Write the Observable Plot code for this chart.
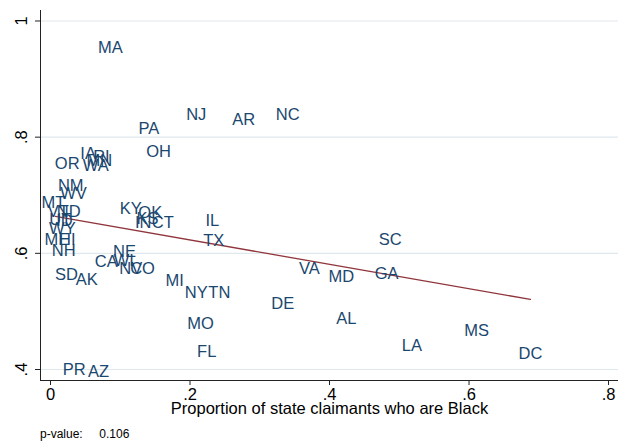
<!DOCTYPE html>
<html>
<head>
<meta charset="utf-8">
<script src="https://cdn.jsdelivr.net/npm/d3@7"></script>
<script src="https://cdn.jsdelivr.net/npm/@observablehq/plot@0.6"></script>
<style>
  html, body { margin: 0; padding: 0; background: #fff; }
  #chart { width: 620px; height: 443px; position: relative; font-family: "Liberation Sans", Arial, sans-serif; }
  #caption { position: absolute; left: 40px; top: 427px; font-size: 12px; color: #000; white-space: pre; }
</style>
</head>
<body>
<div id="chart"></div>
<script>
const states = ["MA","NJ","AR","NC","PA","OH","IA","RI","MN","OR","WA","NM","WV","MT","VT","ND","UT","ID","WY","ME","HI","NH","SD","AK","KY","OK","KS","IN","CT","IL","TX","NE","CA","WI","NV","CO","MI","NY","TN","MO","FL","DE","VA","MD","GA","SC","AL","LA","MS","DC","PR","AZ"];
const shareBlack = [0.086,0.209,0.277,0.340,0.141,0.155,0.054,0.073,0.070,0.024,0.065,0.029,0.033,0.004,0.011,0.026,0.014,0.020,0.017,0.009,0.024,0.019,0.023,0.052,0.115,0.143,0.139,0.133,0.161,0.232,0.234,0.106,0.080,0.105,0.115,0.132,0.178,0.209,0.242,0.215,0.224,0.333,0.371,0.417,0.482,0.487,0.424,0.518,0.611,0.688,0.034,0.069];
const outcome = [0.954,0.839,0.830,0.839,0.815,0.775,0.772,0.767,0.760,0.755,0.751,0.717,0.703,0.688,0.672,0.672,0.658,0.657,0.643,0.624,0.624,0.605,0.564,0.555,0.677,0.670,0.660,0.653,0.653,0.656,0.622,0.602,0.586,0.588,0.574,0.574,0.552,0.533,0.533,0.479,0.431,0.514,0.574,0.560,0.565,0.624,0.488,0.441,0.466,0.428,0.400,0.397];
const fitX = [0.007, 0.688];
const fitY = [0.6635, 0.5207];
const xTicks = [0, 0.2, 0.4, 0.6, 0.8];
const yTicks = [0.4, 0.6, 0.8, 1];
const xTitle = "Proportion of state claimants who are Black";
const pLabel = "p-value:";
const pValue = "0.106";

const data = states.map((s, i) => ({state: s, x: shareBlack[i], y: outcome[i]}));
const fit = fitX.map((x, i) => ({x, y: fitY[i]}));
const fmt = d => d === 0 ? "0" : d === 1 ? "1" : String(d).replace(/^0/, "");
const navy = "#1a476f";
const xDom = [-0.01434, 0.8143];
const yDom = [0.38107, 1.01807];

const chart = Plot.plot({
  width: 620,
  height: 420,
  marginLeft: 40,
  marginRight: 2,
  marginTop: 10,
  marginBottom: 40,
  style: {fontFamily: "'Liberation Sans', Arial, sans-serif", background: "#fff"},
  x: {domain: xDom, axis: null},
  y: {domain: yDom, axis: null},
  marks: [
    Plot.gridY(yTicks, {stroke: "#dfe8ec", strokeOpacity: 1, strokeWidth: 1.2}),
    Plot.ruleX([xDom[0]], {stroke: "#222", strokeWidth: 1}),
    Plot.ruleY([yDom[0]], {stroke: "#222", strokeWidth: 1}),
    Plot.axisY(yTicks, {tickSize: 5, tickFormat: () => "", stroke: "#222", label: null}),
    Plot.text(yTicks, {y: d => d, text: fmt, frameAnchor: "left", dx: -19, rotate: -90, fontSize: 16.5, fill: "#000", textAnchor: "middle", lineAnchor: "middle"}),
    Plot.axisX(xTicks, {tickSize: 5, tickPadding: 3, tickFormat: fmt, fontSize: 16.5, fill: "#000", stroke: "#222", label: null}),
    Plot.text([xTitle], {frameAnchor: "bottom", dy: 33, text: d => d, fontSize: 16.5, fill: "#000"}),
    Plot.line(fit, {x: "x", y: "y", stroke: "#90353b", strokeWidth: 1.3}),
    Plot.text(data, {x: "x", y: "y", text: "state", fill: navy, fontSize: 16.5})
  ]
});
document.getElementById("chart").appendChild(chart);
const cap = document.createElement("div");
cap.id = "caption";
cap.textContent = pLabel + "     " + pValue;
document.getElementById("chart").appendChild(cap);
</script>
</body>
</html>
